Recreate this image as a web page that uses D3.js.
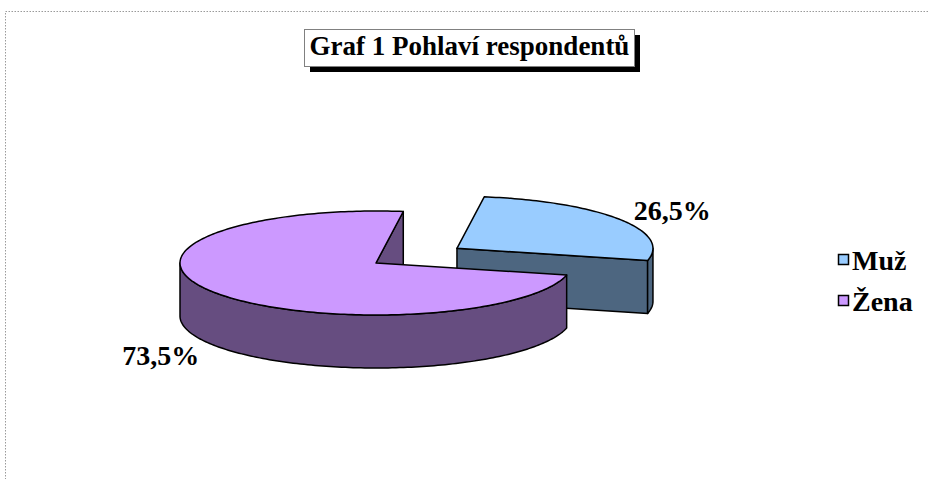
<!DOCTYPE html>
<html>
<head>
<meta charset="utf-8">
<script src="https://cdn.jsdelivr.net/npm/d3@7"></script>
<style>
  body { margin: 0; background: #fff; }
  text { font-family: "Liberation Serif", "Times New Roman", serif; font-weight: bold; }
</style>
</head>
<body>
<script>
var categories = ["Muž", "Žena"];
var values = [26.5, 73.5];
var labels = ["26,5%", "73,5%"];
var topColors = ["#99ccff", "#cc99ff"];
var sideColors = ["#4d6680", "#664d80"];

var width = 929;
var height = 479;
var cx = 376, cy = 263;     // centre of top face
var rx = 196, ry = 52;      // ellipse radii
var depth = 53;
var firstAngle = 8 * Math.PI / 180;
var explode = [0.5, 0];

var svg = d3.select("body").append("svg")
    .attr("width", width)
    .attr("height", height);

// dotted outer frame
svg.append("rect")
    .attr("x", 5.5).attr("y", 11.5)
    .attr("width", 940).attr("height", 500)
    .attr("fill", "none")
    .attr("stroke", "#9a9a9a")
    .attr("stroke-dasharray", "1.5,1.5");

var pie = d3.pie().sort(null)
    .startAngle(firstAngle)
    .endAngle(firstAngle + 2 * Math.PI);
var arcs = pie(values);

function pt(c, a, f, dz) {
    return [c[0] + rx * f * Math.sin(a), c[1] - ry * f * Math.cos(a) + (dz || 0)];
}

function arcPoints(c, a0, a1, dz) {
    var pts = [];
    var n = Math.max(2, Math.ceil(Math.abs(a1 - a0) / 0.02));
    for (var i = 0; i <= n; i++) {
        pts.push(pt(c, a0 + (a1 - a0) * i / n, 1, dz));
    }
    return pts;
}

var line = d3.line();
var g = svg.append("g").attr("stroke", "#000").attr("stroke-width", 1.5).attr("stroke-linejoin", "round");

// Muž (exploded, behind) first, then Žena
arcs.forEach(function(d, i) {
    var mid = (d.startAngle + d.endAngle) / 2;
    var c = pt([cx, cy], mid, explode[i]);
    var a0 = d.startAngle, a1 = d.endAngle;

    // radial walls, drawn only when facing the viewer
    [[a0, -1], [a1, 1]].forEach(function(w) {
        var normal = w[0] + w[1] * Math.PI / 2;
        if (Math.cos(normal - Math.PI) > 0) {
            var p = pt(c, w[0], 1);
            g.append("path")
                .attr("d", line([c, p, [p[0], p[1] + depth], [c[0], c[1] + depth]]) + "Z")
                .attr("fill", sideColors[i]);
        }
    });

    // outer wall, front half only
    for (var k = -1; k <= 1; k++) {
        var lo = Math.max(a0, Math.PI / 2 + k * 2 * Math.PI);
        var hi = Math.min(a1, 3 * Math.PI / 2 + k * 2 * Math.PI);
        if (hi > lo) {
            var top = arcPoints(c, lo, hi, 0);
            var bot = arcPoints(c, hi, lo, depth);
            g.append("path")
                .attr("d", line(top.concat(bot)) + "Z")
                .attr("fill", sideColors[i]);
        }
    }

    // top face
    g.append("path")
        .attr("d", line([c].concat(arcPoints(c, a0, a1, 0))) + "Z")
        .attr("fill", topColors[i]);

    // data label
    var f = 1.33;
    var lp = pt(c, mid, f, Math.cos(mid) < 0 ? depth : 0);
    svg.append("text")
        .attr("x", lp[0]).attr("y", lp[1] + 1)
        .attr("text-anchor", "middle")
        .attr("dominant-baseline", "central")
        .attr("font-size", 28)
        .text(labels[i]);
});

// title with shadow
var title = svg.append("g");
title.append("rect")
    .attr("x", 310).attr("y", 35).attr("width", 330).attr("height", 37)
    .attr("fill", "#000");
title.append("rect")
    .attr("x", 304.5).attr("y", 29.5).attr("width", 330).attr("height", 37)
    .attr("fill", "#fff").attr("stroke", "#808080").attr("stroke-width", 1);
title.append("text")
    .attr("x", 469.5).attr("y", 55)
    .attr("text-anchor", "middle")
    .attr("font-size", 27)
    .text("Graf 1 Pohlaví respondentů");

// legend
var legend = svg.selectAll(".legend")
    .data(categories)
    .enter().append("g")
    .attr("transform", function(d, i) { return "translate(838," + (254 + i * 41) + ")"; });
legend.append("rect")
    .attr("x", 0.5).attr("y", 0.5).attr("width", 10).attr("height", 10)
    .attr("fill", function(d, i) { return topColors[i]; })
    .attr("stroke", "#000").attr("stroke-width", 1.5);
legend.append("text")
    .attr("x", 14).attr("y", 16)
    .attr("font-size", 28)
    .text(function(d) { return d; });
</script>
</body>
</html>
